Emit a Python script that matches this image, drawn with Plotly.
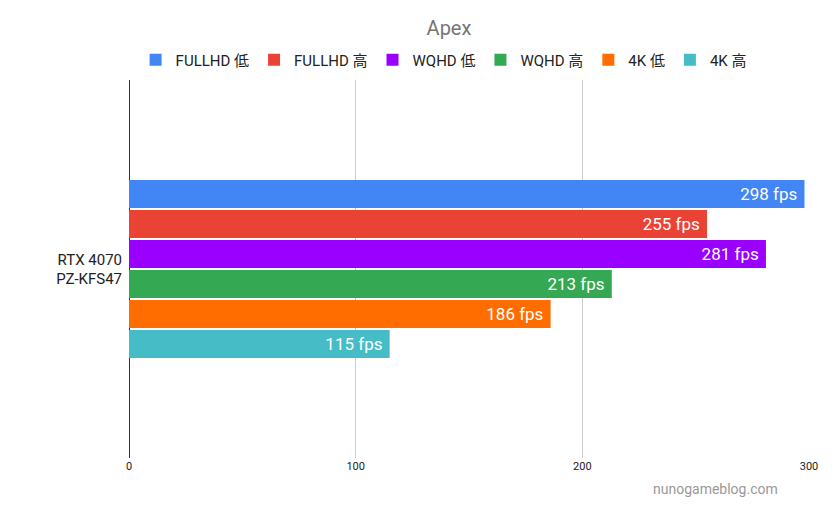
import plotly.graph_objects as go

category = ["RTX 4070<br>PZ-KFS47"]
series_names = ["FULLHD 低", "FULLHD 高", "WQHD 低", "WQHD 高", "4K 低", "4K 高"]
fps_values = [298, 255, 281, 213, 186, 115]
colors = ["#4285f4", "#ea4335", "#9900ff", "#34a853", "#ff6d01", "#46bdc6"]
x_ticks = [0, 100, 200, 300]

FONT = "Roboto, 'Noto Sans CJK JP', sans-serif"

# page body has an 8px margin, so the figure is sized 822x491
fig = go.Figure()
for name, val, col in zip(series_names, fps_values, colors):
    fig.add_trace(go.Bar(
        y=category, x=[val], name=name, orientation="h",
        marker=dict(color=col, line=dict(width=0)),
        text=[f"{val} fps\u00a0"], textposition="inside", insidetextanchor="end",
        textfont=dict(color="white", size=17, family=FONT),
        constraintext="none",
    ))

fig.update_layout(
    width=822, height=491,
    margin=dict(l=121, r=18, t=72, b=41),
    paper_bgcolor="white", plot_bgcolor="white",
    barmode="group", bargap=0.524, bargroupgap=0.067,
    font=dict(family=FONT, color="#222222"),
    title=dict(text="Apex", x=441 / 822, xanchor="center", y=1 - 20 / 491, yanchor="middle",
               font=dict(size=20, color="#757575", family=FONT)),
    legend=dict(orientation="h", x=(437 - 121) / 683, xanchor="center",
                y=(450 - 52) / 378, yanchor="middle",
                font=dict(size=15, color="#222222", family=FONT),
                itemwidth=30, tracegroupgap=0),
    showlegend=True,
    uniformtext=dict(minsize=17, mode="show"),
)
fig.update_xaxes(range=[0, 300], tickvals=x_ticks, showgrid=True, gridcolor="#cccccc",
                 zeroline=True, zerolinecolor="#333333", zerolinewidth=1,
                 tickfont=dict(size=11, color="#222222"), ticks="", showline=False)
fig.update_yaxes(autorange="reversed", showgrid=False, zeroline=False, ticks="",
                 tickfont=dict(size=15, color="#222222"), ticklabelstandoff=6)
fig.add_annotation(text="nunogameblog.com", xref="paper", yref="paper",
                   x=(775 - 121) / 683, xanchor="right", y=-(481 - 450) / 378, yanchor="middle",
                   showarrow=False, font=dict(size=14, color="#999999", family=FONT))

fig.write_html("out.html")
